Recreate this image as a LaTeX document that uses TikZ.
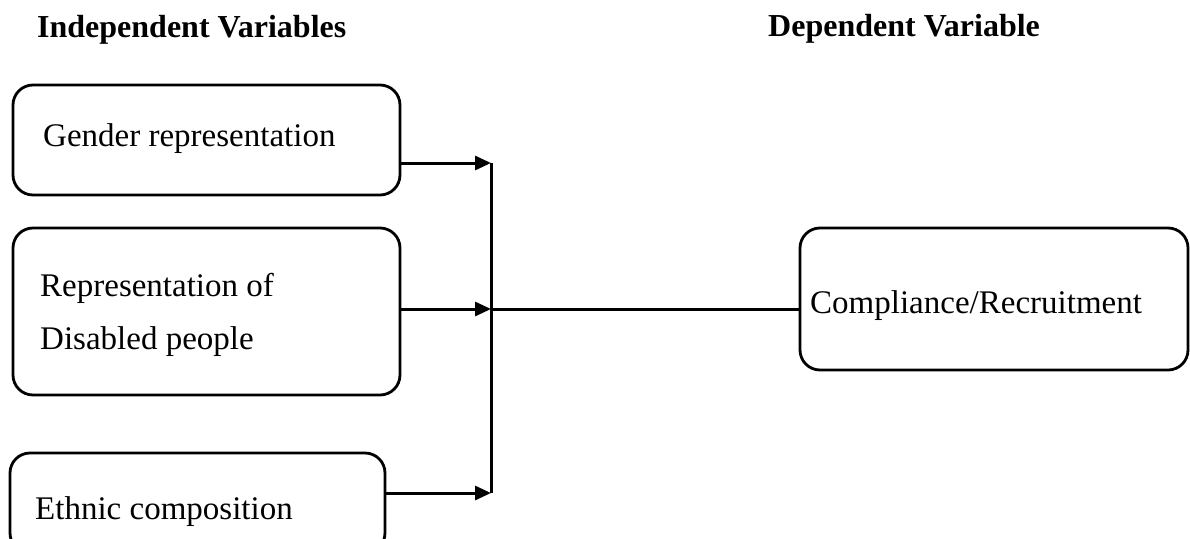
\documentclass[tikz,border=0pt]{standalone}
\usepackage{fontspec}
\setmainfont{Liberation Serif}
\usetikzlibrary{arrows.meta}
\begin{document}
\begin{tikzpicture}[x=1pt,y=-1pt,
  box/.style={draw=black, line width=2.8pt, rounded corners=20pt, inner sep=0pt},
  lbl/.style={anchor=base west, inner sep=0pt, font=\fontsize{33}{40}\selectfont},
  hdr/.style={anchor=base west, inner sep=0pt, font=\fontsize{32}{38}\selectfont\bfseries},
  wire/.style={line width=3pt},
  arr/.style={line width=3pt, -{Triangle[length=16pt,width=14pt]}}]
\useasboundingbox (0,0) rectangle (1190,538);
\clip (0,0) rectangle (1190,538);
% headers
\node[hdr] (hind) at (37,37) {Independent Variables};
\node[hdr] (hdep) at (768,36) {Dependent Variable};
% boxes
\node[box, minimum width=387pt, minimum height=110pt] (b1) at (206.5,140) {};
\node[box, minimum width=387pt, minimum height=167pt] (b2) at (206.5,311.5) {};
\node[box, minimum width=375pt, minimum height=100pt] (b3) at (197.5,503) {};
\node[box, minimum width=388pt, minimum height=142pt] (b4) at (994,299) {};
% labels
\node[lbl] (t1) at (43,146) {Gender representation};
\node[lbl] (t2a) at (40,296) {Representation of};
\node[lbl] (t2b) at (40,349) {Disabled people};
\node[lbl] (t3) at (35,519) {Ethnic composition};
\node[lbl] (t4) at (810,313) {Compliance/Recruitment};
% junctions
\coordinate (j1) at (491,163);
\coordinate (j2) at (491,309);
\coordinate (j3) at (491,493);
% connectors
\draw[wire] (j1) -- (j3);
\draw[arr] (b1.east |- j1) -- (j1);
\draw[arr] (b2.east |- j2) -- (j2);
\draw[arr] (b3.east |- j3) -- (j3);
\draw[wire] (j2) -- (b4.west |- j2);
\end{tikzpicture}
\end{document}
